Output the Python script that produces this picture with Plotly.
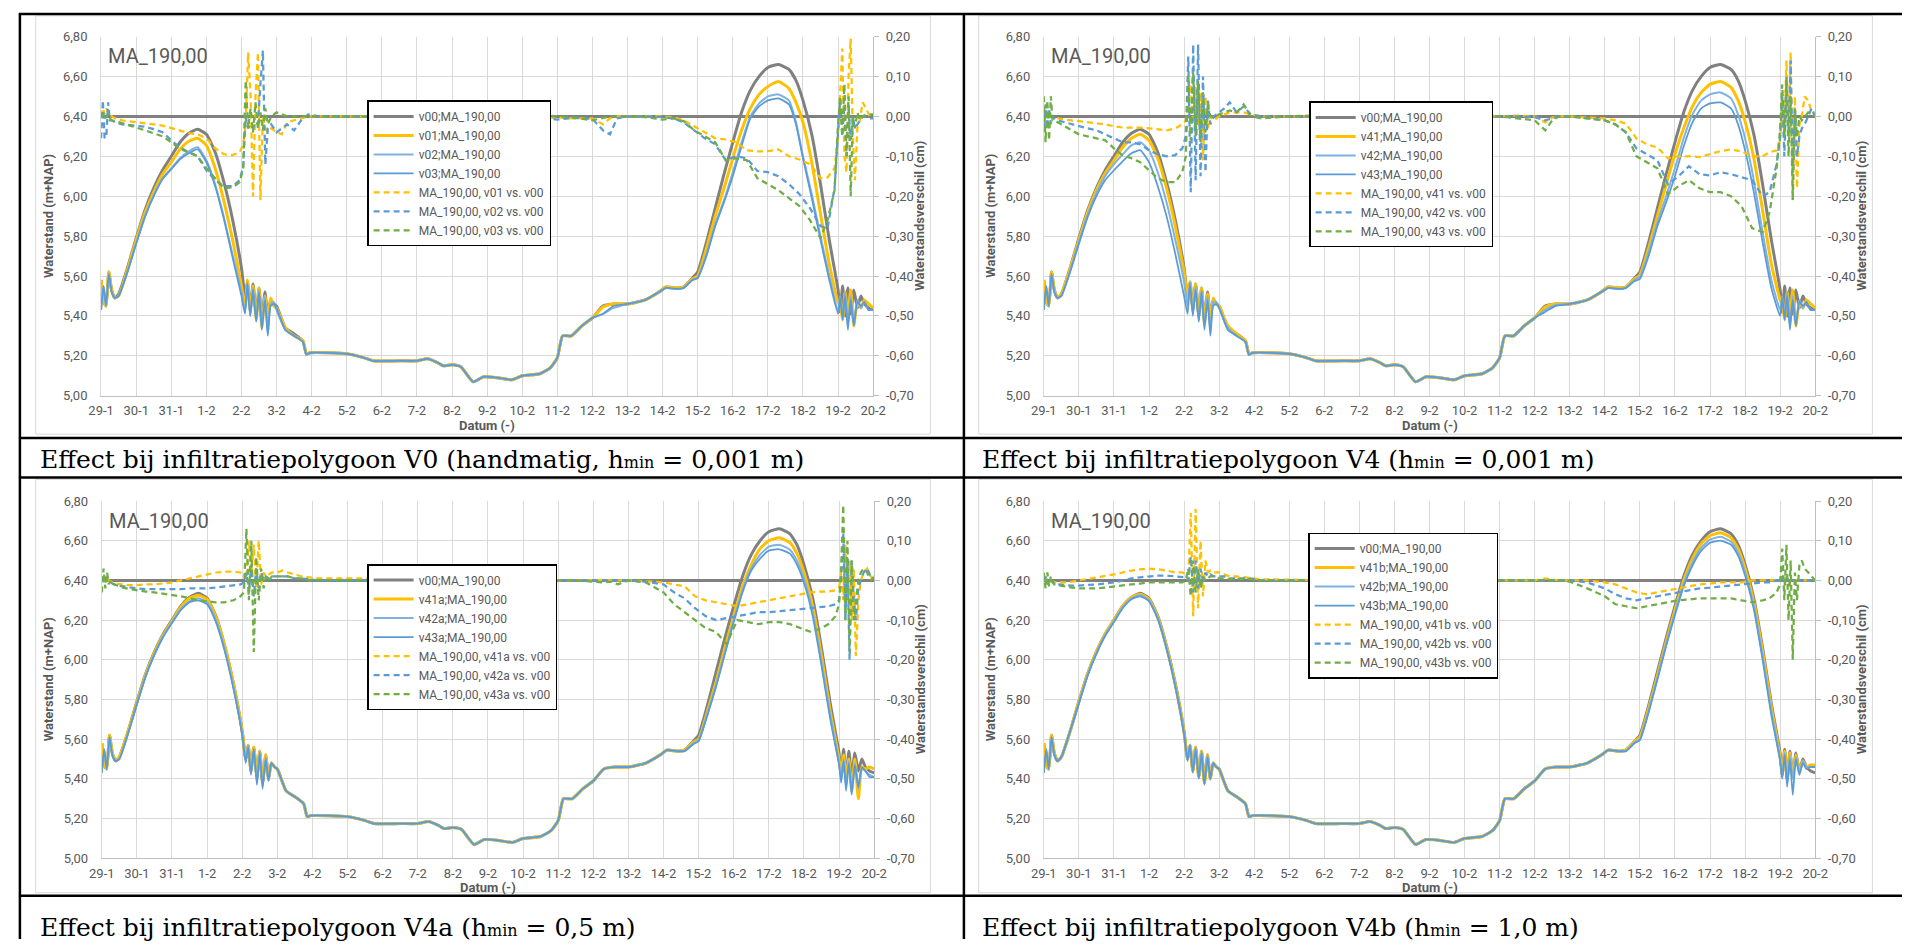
import plotly.graph_objects as go

W, H = 1915, 947

# ---------------- data (days since 29-1) ----------------
X_TICK_LABELS = ["29-1", "30-1", "31-1", "1-2", "2-2", "3-2", "4-2", "5-2", "6-2", "7-2", "8-2",
                 "9-2", "10-2", "11-2", "12-2", "13-2", "14-2", "15-2", "16-2", "17-2", "18-2",
                 "19-2", "20-2"]
Y_LEFT_VALS = [5.0, 5.2, 5.4, 5.6, 5.8, 6.0, 6.2, 6.4, 6.6, 6.8]
Y_LEFT_TEXT = ["5,00", "5,20", "5,40", "5,60", "5,80", "6,00", "6,20", "6,40", "6,60", "6,80"]
Y_RIGHT_VALS = [-0.7, -0.6, -0.5, -0.4, -0.3, -0.2, -0.1, 0.0, 0.1, 0.2]
Y_RIGHT_TEXT = ["-0,70", "-0,60", "-0,50", "-0,40", "-0,30", "-0,20", "-0,10", "0,00", "0,10", "0,20"]

T_LEVEL = [0.00, 0.07, 0.14, 0.22, 0.30, 0.39, 0.50, 0.75, 1.00, 1.25,
           1.50, 1.75, 2.00, 2.25, 2.50, 2.75, 3.00, 3.25, 3.50, 3.75,
           4.00, 4.10, 4.17, 4.25, 4.33, 4.42, 4.50, 4.58, 4.67, 4.75,
           4.83, 4.92, 5.00, 5.25, 5.50, 5.75, 5.85, 5.95, 6.50, 7.00,
           7.50, 7.75, 8.50, 9.00, 9.30, 9.60, 9.75, 10.00, 10.25, 10.60,
           10.90, 11.30, 11.70, 12.00, 12.50, 12.80, 13.00, 13.15, 13.40, 13.70,
           14.00, 14.30, 14.60, 15.00, 15.50, 15.90, 16.10, 16.40, 16.60, 16.85,
           17.00, 17.25, 17.50, 17.75, 18.00, 18.25, 18.50, 18.75, 19.00, 19.30,
           19.60, 19.80, 20.00, 20.25, 20.50, 20.75, 21.00, 21.06, 21.13, 21.20,
           21.28, 21.36, 21.45, 21.55, 21.65, 21.75, 21.87, 22.00]

V00 = [5.58, 5.47, 5.45, 5.62, 5.53, 5.49, 5.51, 5.64, 5.79, 5.93,
       6.04, 6.13, 6.20, 6.27, 6.315, 6.335, 6.31, 6.22, 6.07, 5.88,
       5.64, 5.50, 5.57, 5.44, 5.56, 5.41, 5.54, 5.38, 5.52, 5.40,
       5.48, 5.46, 5.45, 5.34, 5.31, 5.275, 5.21, 5.215, 5.215, 5.21,
       5.19, 5.175, 5.175, 5.175, 5.185, 5.165, 5.15, 5.155, 5.145, 5.07,
       5.095, 5.09, 5.08, 5.10, 5.11, 5.14, 5.19, 5.30, 5.30, 5.35,
       5.39, 5.45, 5.46, 5.46, 5.48, 5.52, 5.545, 5.54, 5.545, 5.59,
       5.62, 5.77, 5.94, 6.11, 6.27, 6.42, 6.53, 6.60, 6.645, 6.66,
       6.635, 6.58, 6.48, 6.31, 6.06, 5.78, 5.53, 5.42, 5.55, 5.40,
       5.54, 5.41, 5.53, 5.44, 5.50, 5.46, 5.44, 5.43]

# --- V0 (handmatig) ---
V01 = [5.58, 5.47, 5.45, 5.62, 5.53, 5.49, 5.50, 5.63, 5.78, 5.915,
       6.02, 6.11, 6.17, 6.235, 6.275, 6.29, 6.255, 6.14, 5.975, 5.78,
       5.55, 5.44, 5.58, 5.42, 5.55, 5.38, 5.54, 5.34, 5.50, 5.38,
       5.49, 5.45, 5.44, 5.34, 5.30, 5.275, 5.21, 5.215, 5.215, 5.21,
       5.19, 5.175, 5.175, 5.175, 5.185, 5.165, 5.15, 5.155, 5.145, 5.07,
       5.095, 5.09, 5.08, 5.10, 5.11, 5.14, 5.19, 5.30, 5.30, 5.35,
       5.39, 5.445, 5.46, 5.46, 5.48, 5.52, 5.545, 5.54, 5.545, 5.585,
       5.60, 5.74, 5.90, 6.04, 6.19, 6.33, 6.44, 6.51, 6.55, 6.575,
       6.54, 6.47, 6.37, 6.17, 5.91, 5.66, 5.47, 5.46, 5.38, 5.52,
       5.40, 5.53, 5.35, 5.47, 5.44, 5.48, 5.46, 5.44]
V02 = [5.43, 5.55, 5.45, 5.61, 5.52, 5.49, 5.50, 5.62, 5.765, 5.90,
       6.005, 6.09, 6.14, 6.19, 6.225, 6.245, 6.18, 6.06, 5.895, 5.705,
       5.52, 5.42, 5.57, 5.40, 5.54, 5.38, 5.53, 5.35, 5.50, 5.31,
       5.46, 5.47, 5.43, 5.33, 5.30, 5.27, 5.205, 5.215, 5.215, 5.21,
       5.19, 5.175, 5.175, 5.175, 5.185, 5.165, 5.15, 5.155, 5.145, 5.07,
       5.095, 5.09, 5.08, 5.10, 5.11, 5.14, 5.19, 5.30, 5.30, 5.35,
       5.39, 5.41, 5.44, 5.46, 5.48, 5.52, 5.54, 5.535, 5.54, 5.58,
       5.59, 5.71, 5.86, 5.98, 6.12, 6.27, 6.40, 6.465, 6.50, 6.51,
       6.48, 6.37, 6.20, 6.01, 5.80, 5.60, 5.42, 5.50, 5.40, 5.52,
       5.35, 5.50, 5.36, 5.48, 5.44, 5.47, 5.43, 5.43]
V03 = [5.43, 5.55, 5.45, 5.61, 5.52, 5.49, 5.50, 5.62, 5.76, 5.895,
       6.00, 6.085, 6.135, 6.185, 6.215, 6.235, 6.17, 6.05, 5.885, 5.69,
       5.50, 5.41, 5.56, 5.40, 5.53, 5.37, 5.52, 5.33, 5.48, 5.30,
       5.45, 5.46, 5.44, 5.33, 5.30, 5.27, 5.205, 5.215, 5.215, 5.21,
       5.19, 5.175, 5.175, 5.175, 5.185, 5.165, 5.15, 5.155, 5.145, 5.07,
       5.095, 5.09, 5.08, 5.10, 5.11, 5.14, 5.19, 5.30, 5.30, 5.35,
       5.39, 5.41, 5.45, 5.46, 5.48, 5.52, 5.54, 5.535, 5.54, 5.58,
       5.59, 5.70, 5.85, 5.97, 6.10, 6.25, 6.39, 6.45, 6.48, 6.49,
       6.46, 6.36, 6.19, 5.99, 5.78, 5.58, 5.41, 5.49, 5.38, 5.50,
       5.33, 5.48, 5.35, 5.47, 5.45, 5.47, 5.43, 5.43]

# --- V4 ---
V41 = [5.58, 5.47, 5.45, 5.62, 5.53, 5.49, 5.51, 5.635, 5.78, 5.92,
       6.03, 6.115, 6.18, 6.245, 6.29, 6.31, 6.28, 6.19, 6.04, 5.85,
       5.62, 5.50, 5.57, 5.43, 5.56, 5.40, 5.54, 5.36, 5.51, 5.38,
       5.49, 5.46, 5.45, 5.35, 5.31, 5.275, 5.21, 5.215, 5.215, 5.21,
       5.19, 5.175, 5.175, 5.175, 5.185, 5.165, 5.15, 5.155, 5.145, 5.07,
       5.095, 5.09, 5.08, 5.10, 5.11, 5.14, 5.19, 5.30, 5.30, 5.35,
       5.39, 5.445, 5.46, 5.46, 5.48, 5.52, 5.545, 5.54, 5.545, 5.585,
       5.605, 5.74, 5.90, 6.06, 6.21, 6.34, 6.45, 6.52, 6.56, 6.575,
       6.545, 6.48, 6.375, 6.19, 5.93, 5.66, 5.48, 5.46, 5.38, 5.52,
       5.40, 5.53, 5.35, 5.47, 5.44, 5.48, 5.46, 5.44]
V42 = [5.43, 5.55, 5.45, 5.61, 5.52, 5.49, 5.50, 5.625, 5.77, 5.905,
       6.015, 6.10, 6.16, 6.21, 6.255, 6.27, 6.23, 6.12, 5.97, 5.78,
       5.57, 5.45, 5.57, 5.41, 5.55, 5.38, 5.53, 5.35, 5.50, 5.32,
       5.47, 5.47, 5.44, 5.34, 5.30, 5.27, 5.205, 5.215, 5.215, 5.21,
       5.19, 5.175, 5.175, 5.175, 5.185, 5.165, 5.15, 5.155, 5.145, 5.07,
       5.095, 5.09, 5.08, 5.10, 5.11, 5.14, 5.19, 5.30, 5.30, 5.35,
       5.39, 5.43, 5.455, 5.46, 5.48, 5.52, 5.54, 5.535, 5.54, 5.58,
       5.595, 5.72, 5.87, 6.00, 6.14, 6.29, 6.41, 6.48, 6.51, 6.52,
       6.49, 6.41, 6.29, 6.08, 5.82, 5.58, 5.43, 5.50, 5.40, 5.52,
       5.35, 5.50, 5.36, 5.48, 5.44, 5.47, 5.43, 5.43]
V43 = [5.43, 5.55, 5.45, 5.61, 5.52, 5.49, 5.50, 5.62, 5.76, 5.895,
       6.00, 6.08, 6.13, 6.175, 6.215, 6.23, 6.17, 6.05, 5.90, 5.71,
       5.50, 5.41, 5.56, 5.40, 5.53, 5.37, 5.52, 5.33, 5.48, 5.30,
       5.45, 5.46, 5.44, 5.33, 5.30, 5.27, 5.205, 5.215, 5.215, 5.21,
       5.19, 5.175, 5.175, 5.175, 5.185, 5.165, 5.15, 5.155, 5.145, 5.07,
       5.095, 5.09, 5.08, 5.10, 5.11, 5.14, 5.19, 5.30, 5.30, 5.35,
       5.39, 5.42, 5.45, 5.46, 5.48, 5.52, 5.54, 5.535, 5.54, 5.575,
       5.585, 5.70, 5.85, 5.97, 6.10, 6.25, 6.37, 6.44, 6.465, 6.47,
       6.44, 6.36, 6.23, 6.02, 5.77, 5.54, 5.40, 5.49, 5.38, 5.50,
       5.33, 5.48, 5.35, 5.47, 5.45, 5.47, 5.43, 5.43]

# --- V4a ---
V41A = [5.58, 5.47, 5.45, 5.62, 5.53, 5.49, 5.51, 5.64, 5.785, 5.925,
        6.035, 6.125, 6.195, 6.265, 6.31, 6.325, 6.305, 6.215, 6.07, 5.88,
        5.64, 5.50, 5.57, 5.44, 5.56, 5.41, 5.54, 5.38, 5.52, 5.40,
        5.48, 5.46, 5.45, 5.34, 5.31, 5.275, 5.21, 5.215, 5.215, 5.21,
        5.19, 5.175, 5.175, 5.175, 5.185, 5.165, 5.15, 5.155, 5.145, 5.07,
        5.095, 5.09, 5.08, 5.10, 5.11, 5.14, 5.19, 5.30, 5.30, 5.35,
        5.39, 5.45, 5.46, 5.46, 5.48, 5.52, 5.545, 5.54, 5.545, 5.585,
        5.60, 5.74, 5.89, 6.06, 6.22, 6.37, 6.48, 6.56, 6.60, 6.615,
        6.59, 6.535, 6.44, 6.27, 6.02, 5.74, 5.50, 5.44, 5.52, 5.40,
        5.50, 5.34, 5.50, 5.30, 5.46, 5.45, 5.46, 5.45]
V42A = [5.43, 5.55, 5.45, 5.61, 5.52, 5.49, 5.50, 5.63, 5.78, 5.92,
        6.03, 6.12, 6.19, 6.255, 6.295, 6.31, 6.29, 6.20, 6.055, 5.865,
        5.63, 5.49, 5.57, 5.43, 5.55, 5.38, 5.54, 5.36, 5.51, 5.39,
        5.48, 5.46, 5.45, 5.34, 5.31, 5.275, 5.21, 5.215, 5.215, 5.21,
        5.19, 5.175, 5.175, 5.175, 5.185, 5.165, 5.15, 5.155, 5.145, 5.07,
        5.095, 5.09, 5.08, 5.10, 5.11, 5.14, 5.19, 5.30, 5.30, 5.35,
        5.39, 5.45, 5.46, 5.46, 5.48, 5.52, 5.545, 5.54, 5.54, 5.58,
        5.595, 5.73, 5.875, 6.04, 6.20, 6.35, 6.46, 6.53, 6.57, 6.58,
        6.555, 6.50, 6.41, 6.24, 5.99, 5.72, 5.48, 5.40, 5.50, 5.36,
        5.49, 5.33, 5.48, 5.35, 5.45, 5.44, 5.42, 5.41]
V43A = [5.43, 5.55, 5.45, 5.61, 5.52, 5.49, 5.50, 5.63, 5.775, 5.915,
        6.025, 6.115, 6.185, 6.25, 6.29, 6.30, 6.28, 6.19, 6.045, 5.855,
        5.62, 5.48, 5.56, 5.42, 5.55, 5.37, 5.53, 5.35, 5.50, 5.39,
        5.48, 5.46, 5.45, 5.34, 5.31, 5.275, 5.21, 5.215, 5.215, 5.21,
        5.19, 5.175, 5.175, 5.175, 5.185, 5.165, 5.15, 5.155, 5.145, 5.07,
        5.095, 5.09, 5.08, 5.10, 5.11, 5.14, 5.19, 5.30, 5.30, 5.35,
        5.39, 5.45, 5.46, 5.46, 5.48, 5.52, 5.545, 5.54, 5.54, 5.575,
        5.59, 5.72, 5.865, 6.03, 6.19, 6.34, 6.45, 6.51, 6.55, 6.557,
        6.535, 6.48, 6.39, 6.22, 5.97, 5.70, 5.47, 5.38, 5.49, 5.34,
        5.48, 5.32, 5.47, 5.36, 5.46, 5.44, 5.41, 5.41]

# --- V4b ---
V41B = [5.58, 5.47, 5.45, 5.62, 5.53, 5.49, 5.51, 5.64, 5.79, 5.93,
        6.04, 6.13, 6.20, 6.27, 6.315, 6.33, 6.305, 6.215, 6.065, 5.875,
        5.635, 5.50, 5.57, 5.44, 5.56, 5.41, 5.54, 5.38, 5.52, 5.40,
        5.48, 5.46, 5.45, 5.34, 5.31, 5.275, 5.21, 5.215, 5.215, 5.21,
        5.19, 5.175, 5.175, 5.175, 5.185, 5.165, 5.15, 5.155, 5.145, 5.07,
        5.095, 5.09, 5.08, 5.10, 5.11, 5.14, 5.19, 5.30, 5.30, 5.35,
        5.39, 5.45, 5.46, 5.46, 5.48, 5.52, 5.545, 5.54, 5.545, 5.59,
        5.61, 5.755, 5.92, 6.09, 6.25, 6.40, 6.51, 6.585, 6.625, 6.64,
        6.615, 6.56, 6.46, 6.29, 6.04, 5.76, 5.51, 5.42, 5.54, 5.40,
        5.53, 5.41, 5.52, 5.44, 5.49, 5.46, 5.47, 5.47]
V42B = [5.43, 5.55, 5.45, 5.61, 5.52, 5.49, 5.51, 5.64, 5.785, 5.925,
        6.035, 6.125, 6.195, 6.265, 6.31, 6.325, 6.30, 6.21, 6.06, 5.87,
        5.63, 5.50, 5.57, 5.44, 5.56, 5.41, 5.54, 5.38, 5.52, 5.40,
        5.48, 5.46, 5.45, 5.34, 5.31, 5.275, 5.21, 5.215, 5.215, 5.21,
        5.19, 5.175, 5.175, 5.175, 5.185, 5.165, 5.15, 5.155, 5.145, 5.07,
        5.095, 5.09, 5.08, 5.10, 5.11, 5.14, 5.19, 5.30, 5.30, 5.35,
        5.39, 5.45, 5.46, 5.46, 5.48, 5.52, 5.545, 5.54, 5.54, 5.585,
        5.60, 5.745, 5.91, 6.08, 6.235, 6.385, 6.49, 6.565, 6.605, 6.62,
        6.595, 6.54, 6.44, 6.27, 6.02, 5.74, 5.50, 5.41, 5.53, 5.38,
        5.52, 5.40, 5.51, 5.43, 5.49, 5.46, 5.46, 5.46]
V43B = [5.43, 5.55, 5.45, 5.61, 5.52, 5.49, 5.51, 5.64, 5.78, 5.92,
        6.03, 6.12, 6.19, 6.26, 6.305, 6.32, 6.295, 6.205, 6.055, 5.865,
        5.625, 5.49, 5.57, 5.43, 5.55, 5.40, 5.53, 5.37, 5.51, 5.40,
        5.48, 5.46, 5.45, 5.34, 5.31, 5.275, 5.21, 5.215, 5.215, 5.21,
        5.19, 5.175, 5.175, 5.175, 5.185, 5.165, 5.15, 5.155, 5.145, 5.07,
        5.095, 5.09, 5.08, 5.10, 5.11, 5.14, 5.19, 5.30, 5.30, 5.35,
        5.39, 5.45, 5.46, 5.46, 5.48, 5.52, 5.545, 5.54, 5.54, 5.58,
        5.595, 5.735, 5.90, 6.07, 6.225, 6.37, 6.475, 6.55, 6.59, 6.60,
        6.58, 6.525, 6.425, 6.255, 6.00, 5.72, 5.49, 5.40, 5.52, 5.36,
        5.50, 5.32, 5.50, 5.42, 5.48, 5.45, 5.46, 5.46]

# ---------------- differences vs v00 (right axis) ----------------
T_DIFF = [0.00, 0.05, 0.10, 0.15, 0.20, 0.25, 0.30, 0.40, 0.60, 0.80,
          1.00, 1.25, 1.50, 1.75, 2.00, 2.25, 2.50, 2.75, 3.00, 3.25,
          3.50, 3.75, 3.95, 4.05, 4.12, 4.19, 4.26, 4.33, 4.40, 4.47,
          4.54, 4.61, 4.68, 4.75, 4.85, 5.00, 5.15, 5.30, 5.50, 5.70,
          5.90, 6.20, 7.00, 8.00, 9.00, 10.00, 11.00, 12.00, 12.50, 13.00,
          13.50, 14.00, 14.30, 14.50, 14.70, 15.00, 15.50, 16.00, 16.30, 16.60,
          16.90, 17.20, 17.50, 17.80, 18.10, 18.40, 18.70, 19.00, 19.30, 19.60,
          19.90, 20.20, 20.50, 20.70, 20.90, 21.00, 21.06, 21.12, 21.18, 21.24,
          21.30, 21.36, 21.42, 21.48, 21.55, 21.62, 21.70, 21.80, 21.90, 22.00]

D01 = [0.00, 0.02, 0.005, 0.02, 0.01, 0.0, 0.0, -0.005, -0.01, -0.012,
       -0.014, -0.016, -0.02, -0.023, -0.03, -0.036, -0.042, -0.045, -0.055, -0.08,
       -0.095, -0.097, -0.09, -0.07, -0.02, 0.16, 0.05, -0.20, 0.05, 0.16,
       -0.21, 0.0, -0.03, -0.04, -0.03, -0.04, -0.045, -0.015, -0.01, -0.005,
       0.0, 0.0, 0.0, 0.0, 0.0, 0.0, -0.002, -0.002, -0.003, -0.003,
       -0.005, -0.005, -0.02, -0.005, 0.0, 0.0, 0.0, 0.0, -0.002, -0.01,
       -0.025, -0.04, -0.055, -0.058, -0.065, -0.085, -0.088, -0.087, -0.083, -0.1,
       -0.108, -0.12, -0.155, -0.153, -0.13, -0.05, 0.05, 0.17, -0.1, -0.14,
       0.1, 0.195, -0.05, -0.16, -0.03, -0.01, 0.035, 0.02, 0.0, -0.005]
D02 = [-0.055, 0.04, -0.055, -0.05, 0.035, -0.01, -0.01, -0.015, -0.02, -0.022,
       -0.024, -0.026, -0.032, -0.04, -0.06, -0.078, -0.09, -0.1, -0.135, -0.16,
       -0.175, -0.175, -0.16, -0.125, 0.0, -0.03, -0.02, -0.03, -0.015, -0.02,
       0.08, 0.165, -0.12, -0.03, -0.02, -0.04, -0.03, -0.02, -0.035, -0.01,
       0.005, 0.0, 0.0, 0.0, 0.0, 0.0, -0.003, -0.003, -0.004, -0.008,
       -0.004, -0.006, -0.035, -0.045, -0.005, 0.0, 0.0, -0.002, -0.005, -0.015,
       -0.035, -0.055, -0.07, -0.11, -0.1, -0.105, -0.137, -0.14, -0.15, -0.17,
       -0.195, -0.23, -0.275, -0.28, -0.18, -0.05, 0.045, -0.05, 0.03, -0.1,
       0.02, -0.06, 0.0, -0.03, -0.02, -0.01, 0.0, 0.0, -0.005, -0.005]
D03 = [0.0, 0.01, -0.005, 0.0, 0.005, -0.005, -0.01, -0.012, -0.018, -0.022,
       -0.028, -0.035, -0.042, -0.05, -0.065, -0.082, -0.09, -0.1, -0.13, -0.155,
       -0.18, -0.178, -0.165, -0.13, 0.09, -0.03, 0.02, -0.04, 0.035, -0.03,
       0.01, -0.035, 0.02, -0.02, 0.0, 0.01, 0.005, 0.0, 0.0, 0.0,
       0.0, 0.0, 0.0, 0.0, 0.0, 0.0, -0.002, 0.0, 0.0, 0.0,
       -0.003, -0.01, -0.005, 0.0, 0.0, 0.0, -0.002, -0.008, -0.005, -0.012,
       -0.035, -0.05, -0.065, -0.11, -0.105, -0.11, -0.155, -0.17, -0.185, -0.205,
       -0.225, -0.26, -0.305, -0.26, -0.185, -0.02, 0.05, -0.05, 0.08, -0.1,
       0.05, -0.2, 0.0, -0.03, 0.01, -0.01, 0.0, 0.005, 0.005, 0.005]

D41 = [0.0, 0.02, -0.005, 0.015, 0.0, -0.005, -0.005, -0.005, -0.008, -0.01,
       -0.012, -0.015, -0.018, -0.02, -0.025, -0.028, -0.028, -0.028, -0.03, -0.033,
       -0.035, -0.03, -0.02, -0.01, 0.03, 0.08, -0.02, 0.075, -0.02, 0.06,
       -0.11, 0.05, -0.03, 0.0, -0.01, 0.0, 0.005, 0.01, 0.01, 0.01,
       0.005, 0.0, 0.0, 0.0, 0.0, 0.0, 0.0, 0.0, 0.0, 0.0,
       0.002, 0.0, -0.015, -0.003, 0.0, 0.0, -0.003, -0.005, -0.01, -0.018,
       -0.055, -0.07, -0.078, -0.105, -0.1, -0.1, -0.102, -0.095, -0.087, -0.083,
       -0.088, -0.1, -0.1, -0.09, -0.085, -0.06, 0.05, -0.05, 0.14, -0.05,
       0.16, -0.21, 0.05, -0.18, -0.02, 0.0, 0.05, 0.04, 0.01, 0.005]
D42 = [-0.03, 0.03, -0.03, 0.02, -0.02, 0.0, -0.005, -0.01, -0.015, -0.02,
       -0.025, -0.03, -0.035, -0.045, -0.055, -0.065, -0.065, -0.07, -0.085, -0.095,
       -0.1, -0.097, -0.08, -0.05, 0.15, -0.19, 0.18, -0.16, 0.18, -0.15,
       0.1, -0.14, 0.04, -0.02, 0.0, 0.01, 0.02, 0.035, 0.01, 0.025,
       0.005, 0.0, 0.0, 0.0, 0.0, 0.0, 0.0, 0.0, 0.0, 0.0,
       0.0, -0.002, -0.01, -0.005, 0.0, 0.0, -0.005, -0.01, -0.02, -0.04,
       -0.08, -0.095, -0.11, -0.17, -0.15, -0.125, -0.145, -0.148, -0.14, -0.145,
       -0.152, -0.16, -0.2, -0.19, -0.12, -0.055, 0.05, -0.1, 0.09, -0.05,
       0.14, -0.14, 0.02, -0.1, -0.05, -0.03, -0.02, 0.0, 0.02, 0.0]
D43 = [0.05, -0.065, 0.04, -0.06, 0.05, -0.01, -0.01, -0.015, -0.025, -0.035,
       -0.045, -0.05, -0.055, -0.06, -0.08, -0.098, -0.105, -0.115, -0.135, -0.155,
       -0.165, -0.165, -0.14, -0.1, 0.105, -0.06, 0.11, -0.05, 0.09, -0.065,
       0.06, -0.04, 0.03, 0.0, 0.0, 0.005, 0.01, 0.015, 0.01, 0.03,
       0.0, -0.005, 0.0, 0.003, 0.0, 0.0, 0.0, 0.0, 0.0, 0.0,
       -0.005, -0.01, -0.035, -0.01, 0.0, 0.0, -0.005, -0.01, -0.02, -0.04,
       -0.1, -0.115, -0.13, -0.195, -0.175, -0.16, -0.18, -0.19, -0.19, -0.2,
       -0.225, -0.28, -0.29, -0.24, -0.13, -0.03, 0.08, -0.05, 0.1, -0.1,
       0.05, -0.21, 0.02, -0.05, 0.0, -0.01, 0.0, 0.01, 0.005, 0.0]

D41A = [0.0, 0.005, -0.005, 0.0, 0.0, -0.003, -0.005, -0.008, -0.01, -0.012,
        -0.012, -0.01, -0.01, -0.008, -0.005, 0.0, 0.005, 0.01, 0.015, 0.02,
        0.022, 0.022, 0.02, 0.015, 0.0, 0.1, 0.02, 0.09, -0.02, 0.1,
        -0.01, 0.02, 0.01, 0.015, 0.02, 0.02, 0.025, 0.02, 0.015, 0.01,
        0.008, 0.005, 0.005, 0.005, 0.0, 0.0, 0.0, 0.0, 0.0, 0.0,
        0.0, 0.0, 0.002, 0.0, 0.0, 0.0, -0.002, -0.005, -0.01, -0.015,
        -0.04, -0.05, -0.055, -0.06, -0.065, -0.06, -0.055, -0.05, -0.045, -0.04,
        -0.035, -0.03, -0.028, -0.028, -0.025, -0.02, 0.02, -0.05, 0.09, 0.0,
        0.05, -0.1, 0.03, -0.19, -0.05, 0.0, 0.02, 0.03, 0.01, 0.0]
D42A = [0.0, 0.01, -0.005, 0.005, 0.0, -0.005, -0.008, -0.012, -0.015, -0.018,
        -0.02, -0.022, -0.022, -0.022, -0.022, -0.022, -0.02, -0.02, -0.02, -0.018,
        -0.015, -0.012, -0.01, -0.005, 0.02, -0.03, 0.04, -0.04, 0.03, -0.02,
        0.02, 0.0, 0.01, 0.005, 0.01, 0.01, 0.01, 0.01, 0.005, 0.005,
        0.003, 0.0, 0.0, 0.0, 0.0, 0.0, 0.0, 0.0, 0.0, 0.0,
        0.0, 0.0, 0.0, 0.0, 0.0, 0.0, -0.003, -0.01, -0.03, -0.045,
        -0.07, -0.09, -0.1, -0.095, -0.09, -0.085, -0.08, -0.08, -0.078, -0.075,
        -0.072, -0.07, -0.068, -0.065, -0.06, -0.05, 0.0, 0.12, -0.1, 0.05,
        -0.2, 0.05, -0.05, -0.1, -0.02, 0.0, 0.02, 0.03, 0.01, 0.01]
D43A = [-0.03, 0.03, -0.02, 0.02, -0.01, 0.0, -0.008, -0.012, -0.018, -0.022,
        -0.025, -0.028, -0.03, -0.033, -0.036, -0.04, -0.045, -0.05, -0.052, -0.055,
        -0.055, -0.05, -0.04, -0.03, 0.13, -0.05, 0.1, -0.18, 0.06, -0.05,
        0.03, -0.02, 0.01, 0.0, 0.01, 0.01, 0.01, 0.01, 0.005, 0.005,
        0.0, 0.0, 0.0, 0.0, 0.0, 0.0, 0.0, 0.0, 0.0, 0.0,
        0.0, -0.003, -0.005, -0.003, -0.01, 0.0, -0.005, -0.03, -0.06, -0.08,
        -0.1, -0.12, -0.13, -0.16, -0.1, -0.105, -0.11, -0.105, -0.105, -0.11,
        -0.12, -0.13, -0.12, -0.11, -0.09, -0.06, 0.03, 0.19, -0.1, 0.1,
        -0.18, 0.05, -0.1, -0.05, 0.0, 0.02, 0.03, 0.02, 0.0, 0.01]

D41B = [0.0, 0.005, -0.003, 0.0, 0.0, -0.003, -0.005, -0.005, -0.005, -0.003,
        0.0, 0.003, 0.006, 0.01, 0.015, 0.02, 0.025, 0.028, 0.03, 0.028,
        0.025, 0.02, 0.02, 0.015, 0.0, 0.17, -0.09, 0.18, -0.07, 0.1,
        -0.04, 0.05, 0.02, 0.025, 0.02, 0.02, 0.015, 0.01, 0.01, 0.008,
        0.005, 0.003, 0.002, 0.0, 0.0, 0.0, 0.0, 0.0, 0.0, 0.0,
        0.0, 0.0, 0.005, 0.003, 0.0, 0.0, 0.0, -0.005, -0.01, -0.02,
        -0.03, -0.035, -0.03, -0.025, -0.02, -0.015, -0.01, -0.008, -0.005, -0.005,
        -0.005, 0.0, 0.0, 0.0, 0.0, 0.005, 0.01, 0.0, 0.01, -0.01,
        0.0, 0.005, 0.0, 0.0, 0.0, 0.0, 0.0, 0.0, 0.0, 0.0]
D42B = [0.0, 0.01, -0.01, 0.005, 0.0, -0.005, -0.008, -0.01, -0.012, -0.013,
        -0.013, -0.012, -0.01, -0.008, -0.005, 0.0, 0.005, 0.008, 0.01, 0.012,
        0.012, 0.01, 0.01, 0.008, 0.0, 0.06, -0.03, 0.05, -0.02, 0.03,
        0.0, 0.02, 0.01, 0.015, 0.01, 0.01, 0.01, 0.005, 0.005, 0.005,
        0.005, 0.0, 0.0, 0.0, 0.0, 0.0, 0.0, 0.0, 0.0, 0.0,
        0.0, 0.0, 0.0, 0.0, 0.0, 0.0, -0.005, -0.02, -0.035, -0.045,
        -0.05, -0.045, -0.04, -0.035, -0.03, -0.025, -0.02, -0.018, -0.015, -0.012,
        -0.01, -0.008, -0.005, -0.005, 0.0, 0.0, 0.01, -0.01, 0.01, 0.0,
        0.0, 0.0, 0.0, 0.0, 0.0, 0.0, 0.0, 0.0, 0.0, 0.0]
D43B = [0.02, -0.02, 0.02, -0.015, 0.01, -0.005, -0.01, -0.012, -0.015, -0.018,
        -0.02, -0.02, -0.02, -0.018, -0.015, -0.012, -0.01, -0.008, -0.005, -0.005,
        -0.005, -0.005, -0.005, 0.0, 0.03, -0.04, 0.05, -0.03, 0.03, -0.02,
        0.01, 0.0, 0.005, 0.01, 0.01, 0.005, 0.005, 0.003, 0.003, 0.003,
        0.003, 0.0, 0.0, 0.0, 0.0, 0.0, 0.0, 0.0, 0.0, 0.0,
        0.0, 0.0, 0.0, 0.0, 0.0, -0.003, -0.02, -0.04, -0.06, -0.065,
        -0.07, -0.065, -0.06, -0.055, -0.05, -0.048, -0.045, -0.045, -0.045, -0.045,
        -0.05, -0.055, -0.05, -0.045, -0.03, -0.01, 0.08, -0.05, 0.09, -0.1,
        0.05, -0.2, 0.02, -0.05, 0.04, 0.05, 0.03, 0.02, 0.01, 0.0]

LOCATION = "MA_190,00"
SUB = "<span style='font-size:16px'>min</span>"
CAPTIONS = [
    f"Effect bij infiltratiepolygoon V0 (handmatig, h{SUB} = 0,001 m)",
    f"Effect bij infiltratiepolygoon V4 (h{SUB} = 0,001 m)",
    f"Effect bij infiltratiepolygoon V4a (h{SUB} = 0,5 m)",
    f"Effect bij infiltratiepolygoon V4b (h{SUB} = 1,0 m)",
]
CHARTS = [
    dict(run=["v01", "v02", "v03"], levels=[V01, V02, V03], diffs=[D01, D02, D03]),
    dict(run=["v41", "v42", "v43"], levels=[V41, V42, V43], diffs=[D41, D42, D43]),
    dict(run=["v41a", "v42a", "v43a"], levels=[V41A, V42A, V43A], diffs=[D41A, D42A, D43A]),
    dict(run=["v41b", "v42b", "v43b"], levels=[V41B, V42B, V43B], diffs=[D41B, D42B, D43B]),
]

# ---------------- layout geometry (pixels) ----------------
PLOT_BOX = [(89.3, 872, 30, 395), (1045, 1827, 30, 395),
            (90, 873, 502, 865), (1045, 1827, 502, 865)]
LEGEND_POS = [(359, 95), (1314, 96), (359, 566), (1313, 534)]
FRAMES = [(23, 9, 930, 434), (979, 9, 1885, 434), (23, 480, 930, 900), (979, 480, 1885, 900)]
CAPTION_POS = [(25, 460), (980, 460), (25, 935), (980, 935)]


def fx(x):
    return x / W


def fy(y):
    return 1 - y / H


GRAY = "#808080"
YELLOW = "#ffc000"
BLUE_L = "#7fb2e0"
BLUE = "#5b9bd5"
GREEN = "#70ad47"
TXT = "#595959"
FONT = "Roboto"
DASH = "6px,4px"

fig = go.Figure()
layout = dict(width=W, height=H, margin=dict(l=0, r=0, t=0, b=0), autosize=False,
              paper_bgcolor="white", plot_bgcolor="rgba(0,0,0,0)", showlegend=True,
              font=dict(family=FONT, color=TXT, size=13))
annotations = []
shapes = []

for k, ch in enumerate(CHARTS, start=1):
    xa = "x" if k == 1 else f"x{k}"
    yl = "y" if k == 1 else f"y{2 * k - 1}"
    yr = f"y{2 * k}"
    leg = "legend" if k == 1 else f"legend{k}"
    l, r, t, b = PLOT_BOX[k - 1]

    solid_styles = [(GRAY, 3.0), (YELLOW, 3.0), (BLUE_L, 2.0), (BLUE, 1.75)]
    solid_data = [V00] + ch["levels"]
    solid_names = ["v00"] + ch["run"]
    for nm, vals, (col, wd) in zip(solid_names, solid_data, solid_styles):
        fig.add_trace(go.Scatter(x=T_LEVEL, y=vals, mode="lines", name=f"{nm};{LOCATION}",
                                 line=dict(color=col, width=wd, shape="spline", smoothing=0.5),
                                 xaxis=xa, yaxis=yl, legend=leg, hoverinfo="skip"))
    for nm, vals, col in zip(ch["run"], ch["diffs"], [YELLOW, BLUE, GREEN]):
        fig.add_trace(go.Scatter(x=T_DIFF, y=vals, mode="lines", name=f"{LOCATION}, {nm} vs. v00",
                                 line=dict(color=col, width=2.25, dash=DASH), xaxis=xa, yaxis=yr,
                                 legend=leg, hoverinfo="skip"))

    xkey = "xaxis" if k == 1 else f"xaxis{k}"
    ylkey = "yaxis" if k == 1 else f"yaxis{2 * k - 1}"
    yrkey = f"yaxis{2 * k}"
    layout[xkey] = dict(domain=[fx(l), fx(r)], anchor=yl, range=[0, 22],
                        tickmode="array", tickvals=list(range(23)), ticktext=X_TICK_LABELS,
                        showgrid=True, gridcolor="#d9d9d9", gridwidth=1, zeroline=False,
                        showline=True, linecolor="#bfbfbf", linewidth=1,
                        tickfont=dict(family=FONT, size=13, color=TXT), ticks="",
                        ticklabelstandoff=3, fixedrange=True)
    layout[ylkey] = dict(domain=[fy(b), fy(t)], anchor=xa, range=[5.0, 6.8],
                         tickmode="array", tickvals=Y_LEFT_VALS, ticktext=Y_LEFT_TEXT,
                         showgrid=True, gridcolor="#d9d9d9", gridwidth=1, zeroline=False,
                         showline=True, linecolor="#d9d9d9", ticks="",
                         tickfont=dict(family=FONT, size=13, color=TXT),
                         ticklabelstandoff=10, fixedrange=True)
    layout[yrkey] = dict(overlaying=yl, side="right", anchor=xa, range=[-0.7, 0.2],
                         tickmode="array", tickvals=Y_RIGHT_VALS, ticktext=Y_RIGHT_TEXT,
                         showgrid=False, zeroline=True, zerolinecolor=GRAY, zerolinewidth=2.5,
                         showline=True, linecolor="#bfbfbf", ticks="outside", ticklen=5,
                         tickcolor="#bfbfbf", tickfont=dict(family=FONT, size=13, color=TXT),
                         ticklabelstandoff=4, fixedrange=True)

    lx, ly = LEGEND_POS[k - 1]
    layout[leg] = dict(x=fx(lx), y=fy(ly), xanchor="left", yanchor="top", bgcolor="white",
                       bordercolor="black", borderwidth=1.5, itemwidth=40, tracegroupgap=0,
                       traceorder="normal", font=dict(family=FONT, size=12, color=TXT))

    annotations.append(dict(x=fx(l + 5), y=fy(t + 20), xref="paper", yref="paper", text=LOCATION,
                            showarrow=False, xanchor="left", yanchor="middle",
                            font=dict(family=FONT, size=20, color=TXT)))
    annotations.append(dict(x=fx(l - 54), y=fy((t + b) / 2), xref="paper", yref="paper",
                            text="<b>Waterstand (m+NAP)</b>", textangle=-90, showarrow=False,
                            xanchor="center", yanchor="middle",
                            font=dict(family=FONT, size=13, color=TXT)))
    annotations.append(dict(x=fx(r + 47), y=fy((t + b) / 2), xref="paper", yref="paper",
                            text="<b>Waterstandsverschil (cm)</b>", textangle=-90, showarrow=False,
                            xanchor="center", yanchor="middle",
                            font=dict(family=FONT, size=13, color=TXT)))
    annotations.append(dict(x=fx((l + r) / 2), y=fy(b + 30), xref="paper", yref="paper",
                            text="<b>Datum (-)</b>", showarrow=False,
                            xanchor="center", yanchor="middle",
                            font=dict(family=FONT, size=13, color=TXT)))
    cx, cy = CAPTION_POS[k - 1]
    annotations.append(dict(x=fx(cx), y=fy(cy), xref="paper", yref="paper", text=CAPTIONS[k - 1],
                            showarrow=False, xanchor="left", yanchor="middle",
                            font=dict(family="DejaVu Serif", size=25, color="black")))
    fx0, fy0, fx1, fy1 = FRAMES[k - 1]
    shapes.append(dict(type="rect", xref="paper", yref="paper", x0=fx(fx0), x1=fx(fx1),
                       y0=fy(fy1), y1=fy(fy0), line=dict(color="#d9d9d9", width=1),
                       layer="below"))

# table lines
TABLE_H = [7, 438, 478, 903]
TABLE_V = [7, 964]
for yy in TABLE_H:
    shapes.append(dict(type="line", xref="paper", yref="paper", x0=fx(6), x1=1,
                       y0=fy(yy), y1=fy(yy), line=dict(color="black", width=2.5)))
for xx in TABLE_V:
    shapes.append(dict(type="line", xref="paper", yref="paper", x0=fx(xx), x1=fx(xx),
                       y0=0, y1=fy(6), line=dict(color="black", width=2.5)))

layout["annotations"] = annotations
layout["shapes"] = shapes
fig.update_layout(**layout)

fig.write_html("out.html", config={"displayModeBar": False},
               post_script="document.body.style.margin='0';document.body.style.overflow='hidden';")
